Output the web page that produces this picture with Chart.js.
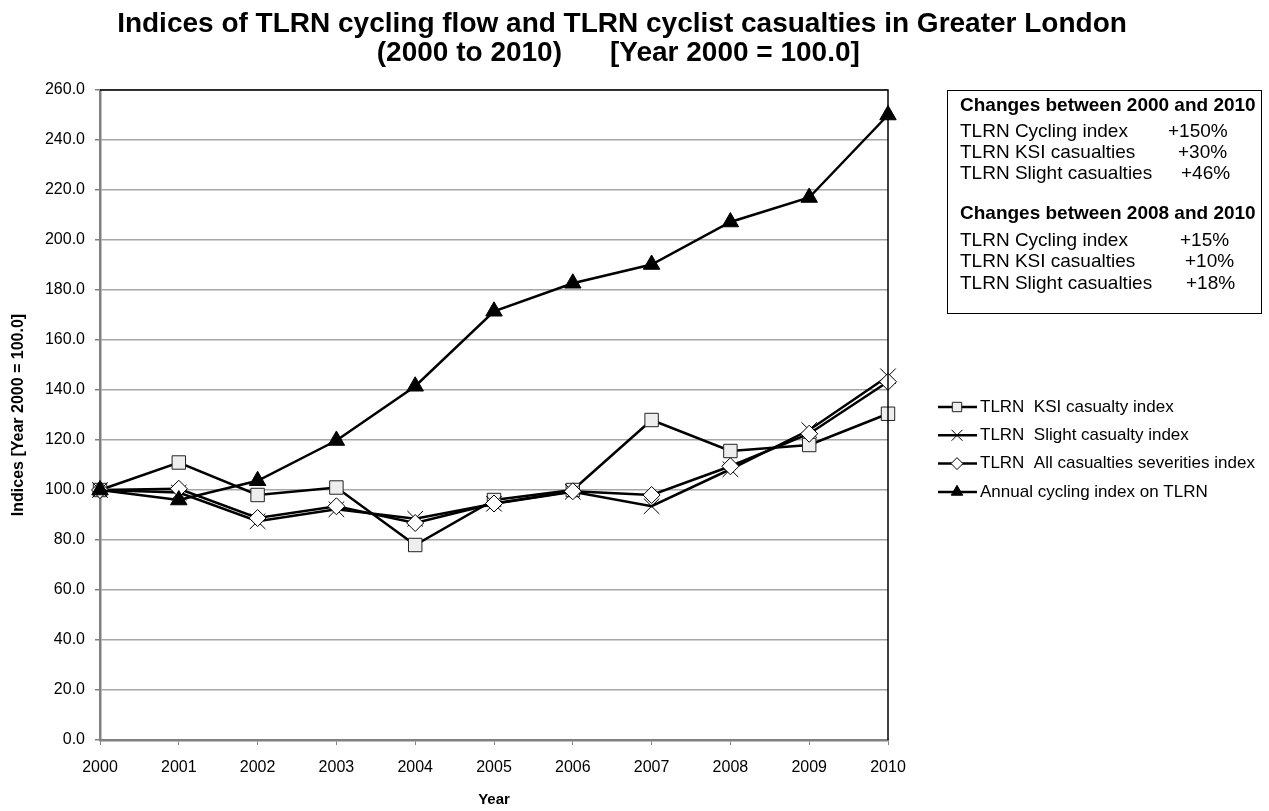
<!DOCTYPE html>
<html>
<head>
<meta charset="utf-8">
<script src="https://cdn.jsdelivr.net/npm/chart.js@4"></script>
<style>
  body { margin: 0; background: #fff; }
  #wrap { width: 1269px; height: 811px; position: relative; }
</style>
</head>
<body>
<div id="wrap"><canvas id="tlrnChart"></canvas></div>
<script>
// data
var years = ['2000', '2001', '2002', '2003', '2004', '2005', '2006', '2007', '2008', '2009', '2010'];
var ksiIndex = [100, 111, 98, 101, 78, 96, 100, 128, 115.6, 118, 130.5];
var slightIndex = [100, 99, 87.5, 92.3, 88.5, 94.5, 99.3, 93.5, 108.3, 124, 145.5];
var allIndex = [100, 100.5, 88.8, 93.5, 86.8, 94.6, 99.5, 98, 109.5, 122.5, 143.3];
var cyclingIndex = [100, 96, 103.7, 119.8, 141.5, 171.5, 182.7, 190.2, 207.2, 217, 250];

var titleLine1 = 'Indices of TLRN cycling flow and TLRN cyclist casualties in Greater London';
var titleLine2a = '(2000 to 2010)';
var titleLine2b = '[Year 2000 = 100.0]';
var boxLines = [
    ['Changes between 2000 and 2010', ''],
    ['TLRN Cycling index', '+150%'],
    ['TLRN KSI casualties', '+30%'],
    ['TLRN Slight casualties', '+46%'],
    ['Changes between 2008 and 2010', ''],
    ['TLRN Cycling index', '+15%'],
    ['TLRN KSI casualties', '+10%'],
    ['TLRN Slight casualties', '+18%']
];

var FONT = '"Liberation Sans", Arial, sans-serif';

// title, plot frame, text box and legend
var extras = {
    id: 'extras',
    afterDraw: function (chart) {
        var ctx = chart.ctx;
        var area = chart.chartArea;
        ctx.save();

        // top and right frame of the plot area
        ctx.strokeStyle = '#000';
        ctx.lineWidth = 1.5;
        ctx.beginPath();
        ctx.moveTo(area.left, area.top);
        ctx.lineTo(area.right, area.top);
        ctx.lineTo(area.right, area.bottom);
        ctx.stroke();

        // title
        ctx.fillStyle = '#000';
        ctx.textBaseline = 'middle';
        ctx.font = 'bold 28px ' + FONT;
        ctx.textAlign = 'center';
        ctx.fillText(titleLine1, 622, 24);
        ctx.textAlign = 'right';
        ctx.fillText(titleLine2a, 562, 53);
        ctx.textAlign = 'left';
        ctx.fillText(titleLine2b, 610, 53);

        // changes box
        ctx.lineWidth = 1;
        ctx.strokeStyle = '#000';
        ctx.strokeRect(947.5, 90.5, 314, 223);
        var rowY = [106, 132, 153, 174, 214, 241, 262, 284];
        var valX = [0, 1168, 1178, 1181, 0, 1180, 1185, 1186];
        ctx.textAlign = 'left';
        boxLines.forEach(function (row, i) {
            ctx.font = (row[1] ? '' : 'bold ') + '19px ' + FONT;
            ctx.fillText(row[0], 960, rowY[i]);
            if (row[1]) ctx.fillText(row[1], valX[i], rowY[i]);
        });

        // legend
        ctx.font = '17px ' + FONT;
        chart.data.datasets.forEach(function (ds, i) {
            var y = 407 + i * 28.3;
            ctx.strokeStyle = '#000';
            ctx.lineWidth = 2.5;
            ctx.beginPath();
            ctx.moveTo(938, y);
            ctx.lineTo(977, y);
            ctx.stroke();
            ctx.fillStyle = ds.pointBackgroundColor;
            ctx.strokeStyle = ds.pointBorderColor;
            ctx.lineWidth = 1;
            Chart.helpers.drawPoint(ctx, {
                pointStyle: ds.pointStyle,
                radius: ds.pointRadius * 0.7,
                borderWidth: 1,
                rotation: 0
            }, 957, y);
            ctx.fillStyle = '#000';
            ctx.fillText(ds.label, 980, y);
        });
        ctx.restore();
    }
};

var ctx = document.getElementById('tlrnChart').getContext('2d');
var chart = new Chart(ctx, {
    type: 'line',
    data: {
        labels: years,
        datasets: [
            {
                label: 'TLRN  KSI casualty index',
                data: ksiIndex,
                borderColor: '#000',
                borderWidth: 2.5,
                pointStyle: 'rect',
                pointRadius: 9.5,
                pointBackgroundColor: '#eeeeee',
                pointBorderColor: '#222',
                pointBorderWidth: 1,
                order: 3
            },
            {
                label: 'TLRN  Slight casualty index',
                data: slightIndex,
                borderColor: '#000',
                borderWidth: 2.5,
                pointStyle: 'crossRot',
                pointRadius: 11,
                pointBackgroundColor: '#000',
                pointBorderColor: '#000',
                pointBorderWidth: 1,
                order: 2
            },
            {
                label: 'TLRN  All casualties severities index',
                data: allIndex,
                borderColor: '#000',
                borderWidth: 2.5,
                pointStyle: 'rectRot',
                pointRadius: 8.5,
                pointBackgroundColor: '#fff',
                pointBorderColor: '#000',
                pointBorderWidth: 1,
                order: 1
            },
            {
                label: 'Annual cycling index on TLRN',
                data: cyclingIndex,
                borderColor: '#000',
                borderWidth: 2.5,
                pointStyle: 'triangle',
                pointRadius: 9.5,
                pointBackgroundColor: '#000',
                pointBorderColor: '#000',
                pointBorderWidth: 1,
                order: 0
            }
        ]
    },
    options: {
        responsive: true,
        maintainAspectRatio: false,
        animation: false,
        layout: { padding: { top: 90, right: 381, left: 0, bottom: 0 } },
        plugins: {
            legend: { display: false },
            tooltip: { enabled: false }
        },
        elements: { line: { tension: 0 } },
        scales: {
            x: {
                afterFit: function (scale) { scale.height = 71; },
                grid: { drawOnChartArea: false, tickLength: 5, color: '#808080', lineWidth: 1 },
                border: { color: '#808080', width: 2.5 },
                ticks: { color: '#000', font: { family: FONT, size: 16 }, padding: 13, maxRotation: 0 },
                title: {
                    display: true, text: 'Year', color: '#000',
                    font: { family: FONT, size: 15, weight: 'bold' },
                    padding: { top: 0, bottom: 2 }
                }
            },
            y: {
                min: 0,
                max: 260,
                afterFit: function (scale) { scale.width = 100; },
                grid: { color: '#a6a6a6', lineWidth: 1.5, tickLength: 5, tickColor: '#808080' },
                border: { color: '#808080', width: 2.5 },
                ticks: {
                    stepSize: 20, color: '#000', padding: 10,
                    font: { family: FONT, size: 16 },
                    callback: function (v) { return Number(v).toFixed(1); }
                },
                title: {
                    display: true, text: 'Indices [Year 2000 = 100.0]', color: '#000',
                    font: { family: FONT, size: 16, weight: 'bold' },
                    padding: { top: 9, bottom: 0 }
                }
            }
        }
    },
    plugins: [extras]
});
</script>
</body>
</html>
